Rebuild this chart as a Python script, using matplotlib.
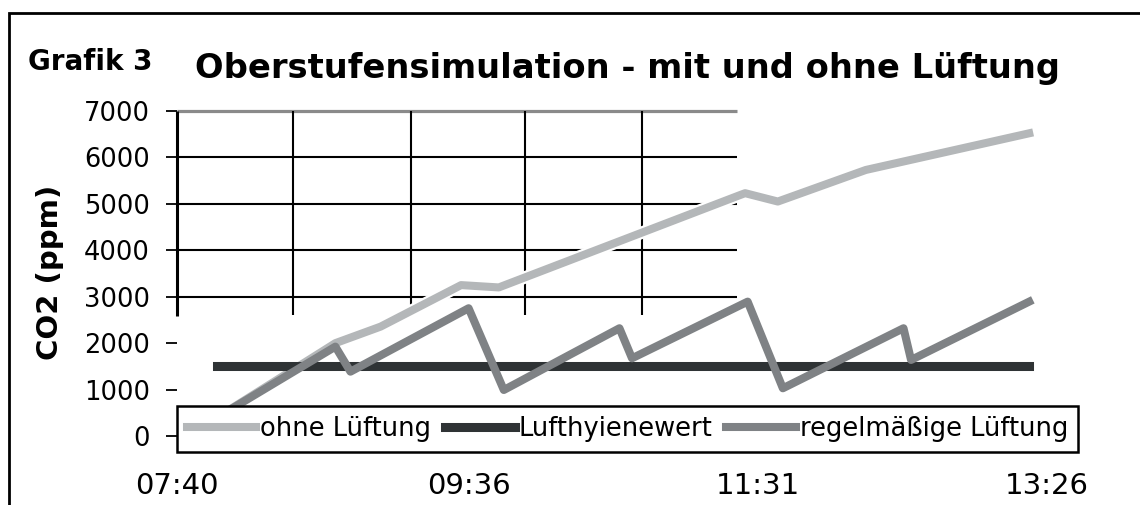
import matplotlib
matplotlib.use('Agg')
import matplotlib.pyplot as plt
import matplotlib.patheffects as pe
from matplotlib.patches import Rectangle

# Messwerte (Uhrzeit, CO2 in ppm)
zeit_ohne = ['07:56', '08:43', '09:01', '09:33', '09:48', '11:24', '11:26', '11:39', '12:14', '13:19']
co2_ohne = [400, 2000, 2356, 3250, 3200, 5190, 5230, 5050, 5730, 6520]

zeit_grenz = ['07:56', '13:19']
co2_grenz = [1500, 1500]

zeit_regel = ['07:56', '08:43', '08:49', '09:36', '09:50', '10:36', '10:41',
              '11:27', '11:41', '12:29', '12:32', '13:19']
co2_regel = [400, 1925, 1386, 2752, 991, 2321, 1674, 2894, 1028, 2321, 1638, 2894]

x_labels = ['07:40', '09:36', '11:31', '13:26']
y_ticks = [0, 1000, 2000, 3000, 4000, 5000, 6000, 7000]

series_names = ['ohne Lüftung', 'Lufthyienewert', 'regelmäßige Lüftung']

START = '07:40'


def minuten(t):
    h, m = t.split(':')
    h0, m0 = START.split(':')
    return (int(h) * 60 + int(m)) - (int(h0) * 60 + int(m0))


fig = plt.figure(figsize=(11.4, 5.05), dpi=100)
W, H = 1140, 505

# Achsen in Pixel: links 177, rechts 1082, oben 111, unten 436
ax = fig.add_axes([177 / W, (H - 436) / H, (1082 - 177) / W, (436 - 111) / H])
ax.set_xlim(0, 360)
ax.set_ylim(0, 7000)
for s in ax.spines.values():
    s.set_visible(False)

# Reste des Gitters (nur oberer Teil sichtbar)
grid_x_end = 222.8
grid_y_low = 2610
ax.hlines([3000, 4000, 5000, 6000], 0, grid_x_end, color='black', lw=1.5, zorder=0.5)
ax.hlines(7000, 0, grid_x_end, color='#8a8a8a', lw=2.3, zorder=0.5, clip_on=False)
ax.vlines([46.1, 92.9, 138.6, 185.0], grid_y_low, 7000, color='black', lw=1.5, zorder=0.5)
ax.vlines(0, grid_y_low - 30, 7000, color='black', lw=2.2, zorder=0.6, clip_on=False)

l1, = ax.plot([minuten(t) for t in zeit_ohne], co2_ohne, color='#b4b7b9', lw=5.8,
              label=series_names[0], zorder=2,
              path_effects=[pe.Stroke(linewidth=9, foreground='white'), pe.Normal()])
l2, = ax.plot([minuten(t) for t in zeit_grenz], co2_grenz, color='#2f3335', lw=6.5,
              label=series_names[1], zorder=3)
l3, = ax.plot([minuten(t) for t in zeit_regel], co2_regel, color='#7f8285', lw=5.8,
              label=series_names[2], zorder=4)

ax.set_yticks(y_ticks)
ax.set_yticklabels([str(v) for v in y_ticks])
ax.set_xticks([minuten(t) for t in x_labels])
ax.set_xticklabels(x_labels)
ax.tick_params(axis='y', length=8, width=1.3, pad=11.5, labelsize=18.5, colors='black')
ax.tick_params(axis='x', length=0, pad=26, labelsize=21)

leg = ax.legend(handles=[l1, l2, l3], ncol=3, loc='upper left',
                bbox_to_anchor=(177 / W, (H - 406) / H), bbox_transform=fig.transFigure,
                fontsize=18.5, handlelength=2.7, handletextpad=0.15, columnspacing=0.55,
                borderpad=0.38, borderaxespad=0, fancybox=False, framealpha=1,
                edgecolor='black')
leg.get_frame().set_linewidth(1.8)
for h in leg.legend_handles:
    h.set_path_effects([])
leg.set_zorder(10)

fig.text(195 / W, 1 - 78 / H, 'Oberstufensimulation - mit und ohne Lüftung',
         fontsize=24.3, fontweight='bold', va='baseline', ha='left')
fig.text(28 / W, 1 - 70 / H, 'Grafik 3', fontsize=20, fontweight='bold',
         va='baseline', ha='left')
fig.text(50 / W, 1 - 272 / H, 'CO2 (ppm)', fontsize=21, fontweight='bold',
         rotation=90, va='center', ha='center')

# Rahmen um die Grafik
fig.add_artist(Rectangle((9 / W, -0.2), 1.3, 1.2 - 13 / H, transform=fig.transFigure,
                         fill=False, edgecolor='black', lw=2))

fig.savefig('out.png', dpi=100)
